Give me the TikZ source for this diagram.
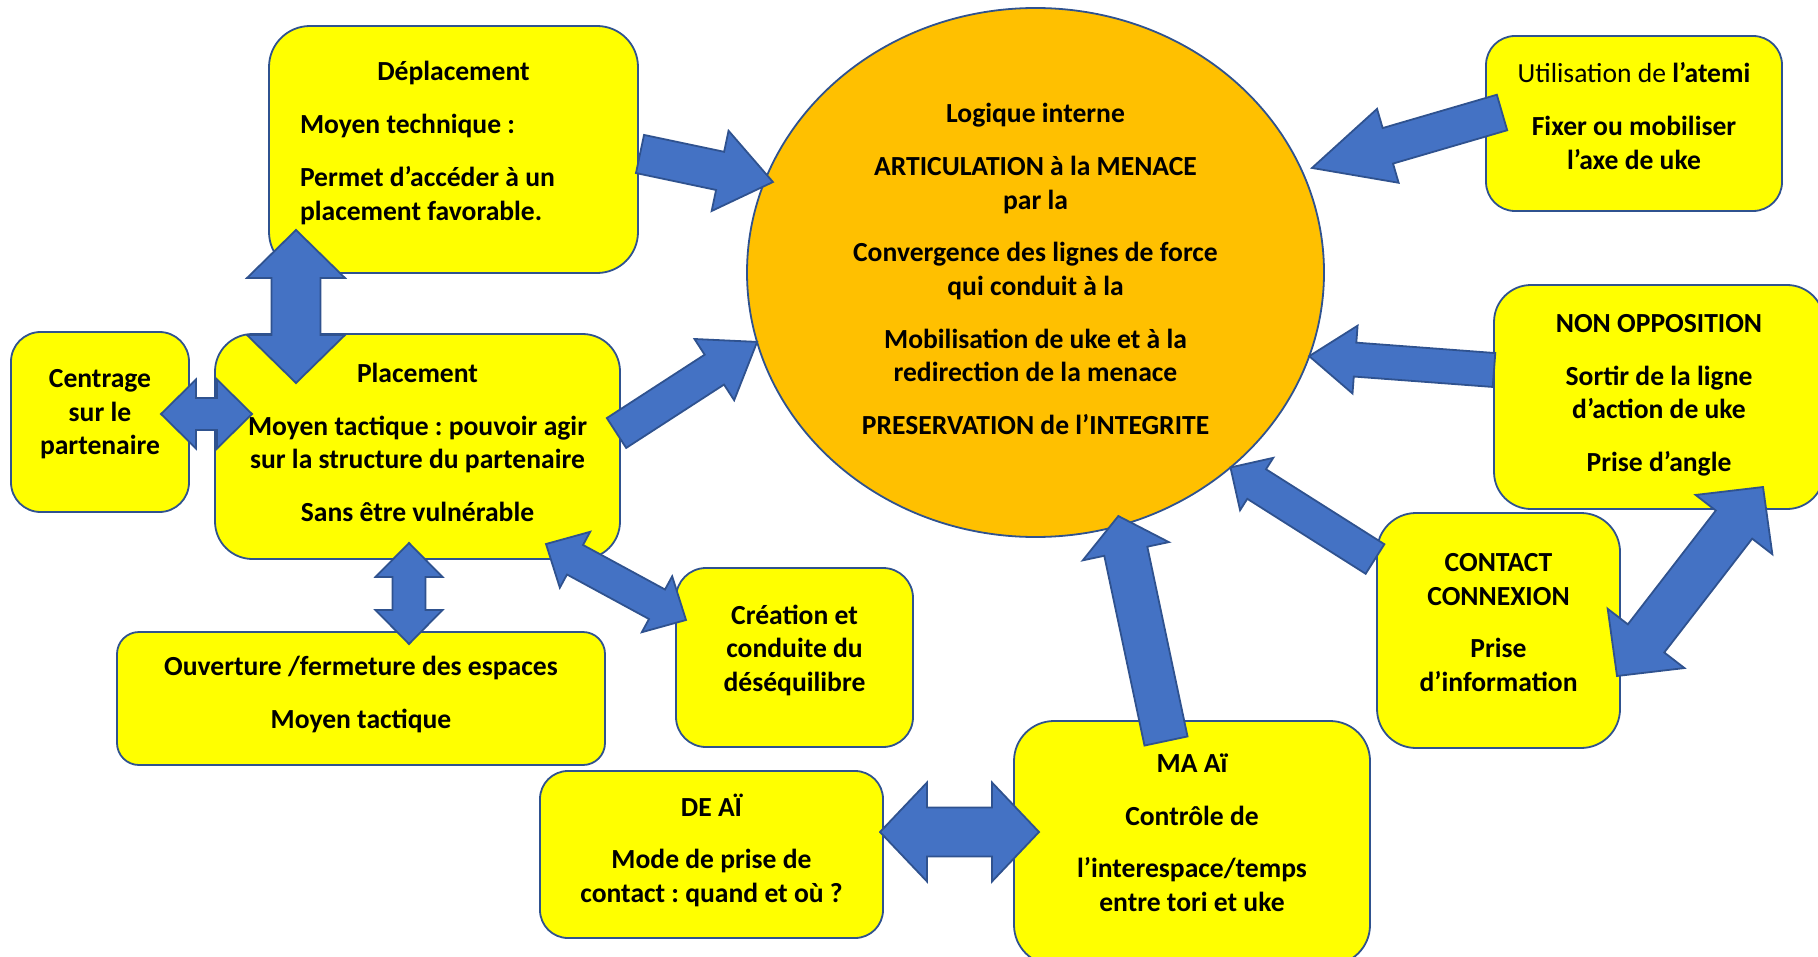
\documentclass[tikz,border=0pt]{standalone}
\usepackage{fontspec}
\setmainfont{Carlito}
\usepackage{tikz}
\usetikzlibrary{shapes.geometric,calc}
\definecolor{jaune}{HTML}{FFFF00}
\definecolor{orangec}{HTML}{FFC000}
\definecolor{bleu}{HTML}{4472C4}
\definecolor{bordure}{HTML}{2F528F}
\frenchspacing
\tikzset{boite/.style={draw=bordure, fill=jaune, line width=0.9pt, rounded corners=#1,
   inner sep=0pt, outer sep=0pt, align=center,
   font=\fontsize{13.8pt}{16.8pt}\selectfont\bfseries},
 boite/.default=15pt,
 fleche/.style={fill=bleu, draw=bordure, line width=0.9pt, line join=miter},
 }
\newlength\ecart
\setlength\ecart{9.6pt}
% profondeur sous la derniere ligne
\newcommand{\fond}[1]{\rule[-#1]{0pt}{0pt}}
% fleche simple : depart, pointe, demi-tete, demi-corps, longueur de tete
\newcommand{\flecheS}[5]{%
  \path[fleche] let \p1=#1, \p2=#2, \n1={atan2(\y2-\y1,\x2-\x1)} in
    ($(\p1)+(\n1+90:#4)$) -- ($(\p2)+(\n1:-#5)+(\n1+90:#4)$)
    -- ($(\p2)+(\n1:-#5)+(\n1+90:#3)$) -- (\p2)
    -- ($(\p2)+(\n1:-#5)+(\n1-90:#3)$) -- ($(\p2)+(\n1:-#5)+(\n1-90:#4)$)
    -- ($(\p1)+(\n1-90:#4)$) -- cycle;
}
% fleche double
\newcommand{\flecheD}[5]{%
  \path[fleche] let \p1=#1, \p2=#2, \n1={atan2(\y2-\y1,\x2-\x1)} in
    (\p1) -- ($(\p1)+(\n1:#5)+(\n1+90:#3)$) -- ($(\p1)+(\n1:#5)+(\n1+90:#4)$)
    -- ($(\p2)+(\n1:-#5)+(\n1+90:#4)$) -- ($(\p2)+(\n1:-#5)+(\n1+90:#3)$) -- (\p2)
    -- ($(\p2)+(\n1:-#5)+(\n1-90:#3)$) -- ($(\p2)+(\n1:-#5)+(\n1-90:#4)$)
    -- ($(\p1)+(\n1:#5)+(\n1-90:#4)$) -- ($(\p1)+(\n1:#5)+(\n1-90:#3)$) -- cycle;
}

\begin{document}
\begin{tikzpicture}[x=0.5pt,y=-0.5pt]
    \useasboundingbox (0,0) rectangle (1818,957);

    % boites
    \node[boite=20.5pt, minimum width=184.5pt, minimum height=123.5pt, text width=153.5pt, align=flush left] (dep) at (453.5,149.5)
        {\makebox[\linewidth]{Déplacement}\\[\ecart] Moyen technique :\\[\ecart] Permet d’accéder à un\\ placement favorable.\fond{8.7pt}};
    \node[boite=18.75pt, minimum width=202.5pt, minimum height=112.5pt] (plc) at (417.5,446.5)
        {Placement\\[\ecart] Moyen tactique : pouvoir agir\\ sur la structure du partenaire\\[\ecart] Sans être vulnérable\fond{4pt}};
    \node[boite=14.8pt, minimum width=89pt, minimum height=90pt] (cen) at (100,422)
        {Centrage\\ sur le\\ partenaire\fond{9.9pt}};
    \node[boite=11pt, minimum width=244pt, minimum height=66.5pt] (ouv) at (361,698.5)
        {Ouverture /fermeture des espaces\\[\ecart] Moyen tactique\fond{5.8pt}};
    \node[boite=15pt, minimum width=118.5pt, minimum height=89.5pt] (cre) at (794.5,657.5)
        {Création et\\ conduite du\\ déséquilibre\fond{9.3pt}};
    \node[boite=14pt, minimum width=171.5pt, minimum height=83.5pt] (deai) at (711.5,854.5)
        {DE AÏ\\[\ecart] Mode de prise de\\ contact : quand et où ?\fond{6.4pt}};
    \node[boite=20pt, minimum width=178pt, minimum height=122pt] (maai) at (1192,843)
        {MA Aï\\[\ecart] Contrôle de\\[\ecart] l’interespace/temps\\ entre tori et uke\fond{10.4pt}};
    \node[boite=19.5pt, minimum width=121.5pt, minimum height=117.5pt] (con) at (1498.5,630.5)
        {CONTACT\\ CONNEXION\\[\ecart] Prise\\ d’information\fond{8pt}};
    \node[boite=18.5pt, minimum width=165pt, minimum height=112pt] (non) at (1659,397)
        {NON OPPOSITION\\[\ecart] Sortir de la ligne\\ d’action de uke\\[\ecart] Prise d’angle\fond{4pt}};
    \node[boite=14.5pt, minimum width=148pt, minimum height=87.5pt] (uti) at (1634,123.5)
        {{\mdseries Utilisation de }l’atemi\\[\ecart] Fixer ou mobiliser\\ l’axe de uke\fond{7.6pt}};

    % centre
    \node[ellipse, draw=bordure, fill=orangec, line width=0.9pt, minimum width=288.5pt, minimum height=264.5pt,
        inner sep=0pt, outer sep=0pt, align=center, font=\fontsize{13.8pt}{16.8pt}\selectfont\bfseries] (ell) at (1035.5,272.5)
        {Logique interne\\[\ecart] ARTICULATION à la MENACE\\ par la\\[\ecart] Convergence des lignes de force\\ qui conduit à la\\[\ecart]
         Mobilisation de uke et à la\\ redirection de la menace\\[\ecart] PRESERVATION de l’INTEGRITE\fond{3.5pt}};

    % fleches vers le centre
    \flecheS{([shift={(1pt,-2.25pt)}]dep.east)}{([shift={(3.75pt,-1.25pt)}]ell.161)}{20.5pt}{9.75pt}{27pt}
    \flecheS{([shift={(-1.75pt,6.75pt)}]plc.east)}{(ell.194)}{18.25pt}{8.9pt}{25.5pt}
    \flecheS{([shift={(8pt,5.5pt)}]uti.west)}{([shift={(5.2pt,1.2pt)}]ell.21)}{19.25pt}{9.25pt}{39.5pt}
    \flecheS{([yshift=13.5pt]non.west)}{(ell.343)}{17pt}{8.5pt}{23pt}
    \flecheS{([shift={(-1pt,-23pt)}]con.north west)}{(ell.315)}{15.5pt}{8.75pt}{15.5pt}
    \flecheS{([shift={(-13pt,-10pt)}]maai.north)}{([shift={(-2pt,4.35pt)}]ell.289)}{22pt}{11pt}{18pt}

    % fleches doubles
    \flecheD{([shift={(-1.5pt,11.25pt)}]deai.east)}{([shift={(12.5pt,5.5pt)}]maai.west)}{24.75pt}{12.25pt}{23.5pt}
    \flecheD{([shift={(13.5pt,21.5pt)}]dep.south west)}{([shift={(40.5pt,-24.5pt)}]plc.north west)}{24.5pt}{12.25pt}{24pt}
    \flecheD{([shift={(-14pt,4pt)}]cen.east)}{([shift={(18.5pt,16.25pt)}]plc.west)}{17.25pt}{8pt}{17.5pt}
    \flecheD{([shift={(-4.25pt,8pt)}]plc.south)}{([shift={(24pt,-6pt)}]ouv.north)}{16.75pt}{8.25pt}{17pt}
    \flecheD{([shift={(-37pt,7.5pt)}]plc.south east)}{([shift={(5pt,18.75pt)}]cre.west)}{15.9pt}{8.4pt}{16.5pt}
    \flecheD{([shift={(-1.5pt,-22.75pt)}]con.east)}{([shift={(52pt,11pt)}]non.south)}{24.25pt}{11.5pt}{23.75pt}
\end{tikzpicture}
\end{document}
